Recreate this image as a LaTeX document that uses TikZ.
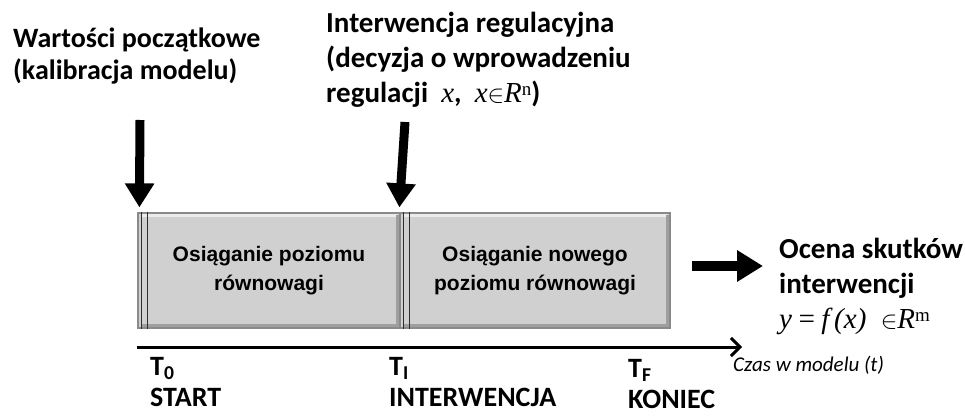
\documentclass[tikz,border=0pt]{standalone}
\usepackage{fontspec}
\setmainfont{Carlito}
\newfontfamily\boxfont{Liberation Sans}
\newfontfamily\timesfont{Liberation Serif}
\usetikzlibrary{arrows.meta}

\definecolor{phasefill}{HTML}{D0D0D0}
\definecolor{phaseedge}{HTML}{8A8A8A}

\tikzset{
  phase/.style={draw=phaseedge,line width=1.2pt,fill=phasefill,
    minimum height=115pt,inner sep=0pt,align=center,
    font=\boxfont\bfseries\fontsize{21}{29}\selectfont},
  bigarrow/.style={line width=9pt,-{Triangle[length=24pt,width=28pt]}},
  label/.style={anchor=north west,align=left,inner sep=0pt,
    font=\bfseries\fontsize{29}{35}\selectfont}
}

\begin{document}
\begin{tikzpicture}[x=1pt,y=-1pt]
  \useasboundingbox (0,0) rectangle (965,417);

  % fazy modelu
  \node[phase,minimum width=262pt] (phase1) at (269,270.5) {Osiąganie poziomu\\równowagi};
  \node[phase,minimum width=270pt] (phase2) at (535,270.5) {Osiąganie nowego\\poziomu równowagi};
  \foreach \ph in {phase1,phase2} {
    % efekt wypuklenia
    \draw[white!85!gray,line width=2.5pt] ([shift={(4pt,-3pt)}]\ph.north west) -- ([shift={(-4pt,-3pt)}]\ph.north east);
    \draw[gray!75,line width=2.5pt] ([shift={(-3pt,-3pt)}]\ph.north east) -- ([shift={(-3pt,3pt)}]\ph.south east) -- ([shift={(4pt,3pt)}]\ph.south west);
    \draw[gray!35!black,line width=1.5pt] ([xshift=4pt]\ph.north west) -- ([xshift=4pt]\ph.south west);
    \draw[gray!35!black,line width=1.5pt] ([xshift=10pt]\ph.north west) -- ([xshift=10pt]\ph.south west);
  }

  % opisy
  \node[label,font=\bfseries\fontsize{28}{32}\selectfont] (init) at (13,28) {Wartości początkowe\\(kalibracja modelu)};
  \node[label] (interv) at (326,12) {Interwencja regulacyjna\\(decyzja o wprowadzeniu\\regulacji \ {\mdseries\timesfont\itshape x},\ \ {\mdseries\timesfont\itshape x}$\in${\mdseries\timesfont\itshape R}\raisebox{0.5ex}{\mdseries\timesfont\fontsize{19}{19}\selectfont n})};
  \node[label] (result) at (779,238) {Ocena skutków\\interwencji\\[0pt]\mdseries\timesfont\itshape y\,=\,f\,(x)\ \ $\in$R\raisebox{0.5ex}{\upshape\fontsize{19}{19}\selectfont m}};

  \coordinate (initA) at (140,120);
  \coordinate (intervA) at (405,122);
  \draw[bigarrow] (initA) -- ([xshift=2pt,yshift=5pt]phase1.north west);
  \draw[bigarrow] (intervA) -- ([yshift=5pt]phase2.north west);
  \coordinate (outA) at (692,266);
  \coordinate (outB) at (763,266);
  \draw[line width=10pt,-{Triangle[length=26pt,width=30pt]}] (outA) -- (outB);

  % os czasu
  \coordinate (t0) at (137,347);
  \coordinate (tend) at (742,347);
  \draw[line width=3pt,-{Straight Barb[length=9pt,width=18pt,line width=3pt]}] (t0) -- (tend);
  \begin{scope}[every node/.style={anchor=north west,align=left,inner sep=0pt,font=\bfseries\fontsize{28}{31}\selectfont}]
    \node (start) at (150,357) {T\textsubscript{0}\\START};
    \node (inter) at (389,357) {T\textsubscript{I}\\INTERWENCJA};
    \node (stop) at (628,359) {T\textsubscript{F}\\KONIEC};
  \end{scope}
  \node[anchor=north west,inner sep=0pt,font=\itshape\fontsize{21}{24}\selectfont] (time) at (733,356) {Czas w modelu (t)};
\end{tikzpicture}
\end{document}
